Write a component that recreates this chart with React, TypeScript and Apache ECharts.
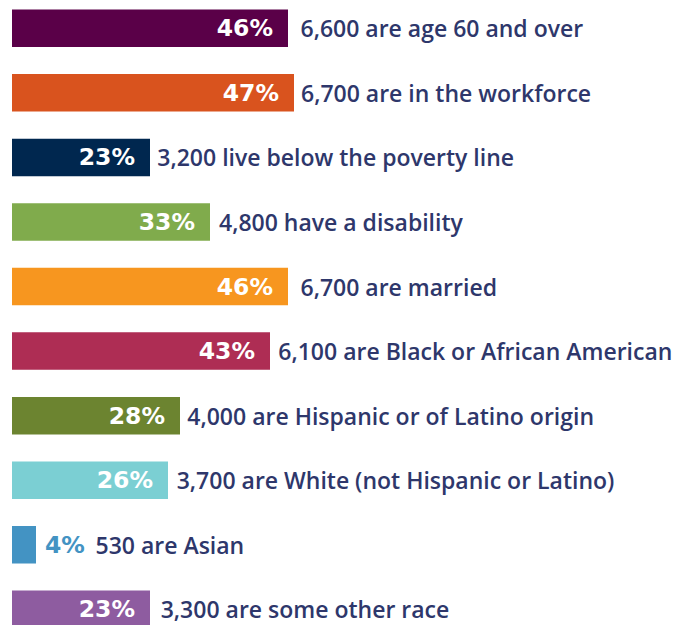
import React, { useEffect, useRef } from "react";
import * as echarts from "echarts";

const categories = [
  "Age 60 and over",
  "In the workforce",
  "Below poverty line",
  "Disability",
  "Married",
  "Black or African American",
  "Hispanic or Latino",
  "White",
  "Asian",
  "Some other race",
];
const percents = [46, 47, 23, 33, 46, 43, 28, 26, 4, 23];
const counts = ["6,600", "6,700", "3,200", "4,800", "6,700", "6,100", "4,000", "3,700", "530", "3,300"];
const descriptions = [
  "are age 60 and over",
  "are in the workforce",
  "live below the poverty line",
  "have a disability",
  "are married",
  "are Black or African American",
  "are Hispanic or of Latino origin",
  "are White (not Hispanic or Latino)",
  "are Asian",
  "are some other race",
];
const colors = ["#5a0048", "#d9531e", "#00274f", "#80ab4c", "#f7961f", "#ae2d54", "#6c8430", "#7bcfd3", "#4393c3", "#8e5ca0"];
// gap between bar end and description text, per row
const textGaps = [12.5, 7, 7.3, 9, 12.5, 8.3, 7.3, 8.7, 59.5, 10.7];

const TEXT_FONT = "'Open Sans', 'Noto Sans', sans-serif";
const PCT_FONT = "'DejaVu Sans', 'Open Sans', sans-serif";
const NAVY = "#2e376b";

export default function App() {
  const ref = useRef<HTMLDivElement>(null);
  useEffect(() => {
    if (!ref.current) return;
    const chart = echarts.init(ref.current, undefined, { renderer: "svg" });
    const smallThreshold = 8;
    chart.setOption({
      animation: false,
      grid: { left: 12, width: 600, top: 0, height: 645.6, containLabel: false },
      xAxis: { type: "value", min: 0, max: 100, show: false },
      yAxis: { type: "category", data: categories, inverse: true, show: false },
      series: [
        {
          type: "bar",
          barWidth: 37.5,
          barGap: "-100%",
          data: percents.map((v, i) => ({
            value: v,
            itemStyle: { color: colors[i] },
            label:
              v < smallThreshold
                ? { position: "right", distance: 9, color: colors[i] }
                : { position: "insideRight", distance: 15, color: "#ffffff" },
          })),
          label: {
            show: true,
            formatter: (p: any) => `${p.value}%`,
            fontFamily: PCT_FONT,
            fontWeight: "bold",
            fontSize: 23.5,
          },
        },
        {
          type: "bar",
          barWidth: 37.5,
          barGap: "-100%",
          silent: true,
          itemStyle: { color: "rgba(0,0,0,0)" },
          data: percents.map((v, i) => ({
            value: v,
            label: { distance: textGaps[i] },
          })),
          label: {
            show: true,
            position: "right",
            formatter: (p: any) => `${counts[p.dataIndex]} ${descriptions[p.dataIndex]}`,
            fontFamily: TEXT_FONT,
            fontWeight: 600,
            fontSize: 23,
            color: NAVY,
          },
        },
      ],
    });
    return () => chart.dispose();
  }, []);
  return (
    <div
      ref={ref}
      style={{ width: 678, height: 650, position: "absolute", left: 0, top: -4.5 }}
    />
  );
}
